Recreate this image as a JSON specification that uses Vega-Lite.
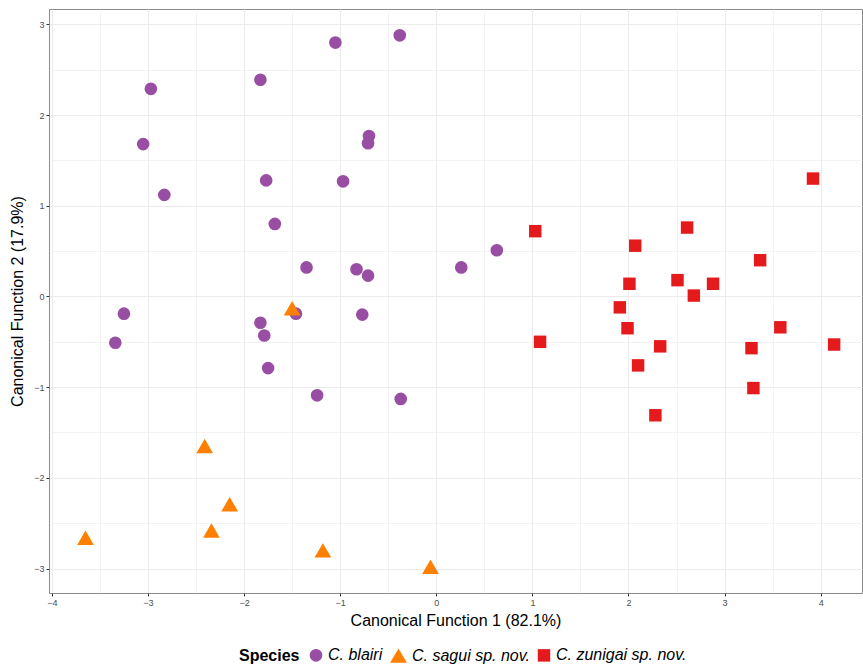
{
  "$schema": "https://vega.github.io/schema/vega-lite/v6.json",
  "width": 813,
  "height": 584,
  "autosize": {"type": "none"},
  "padding": {"left": 49, "top": 9, "right": 1, "bottom": 75},
  "background": "white",
  "config": {
    "font": "Liberation Sans",
    "view": {"stroke": "#8a8a8a", "strokeWidth": 1}
  },
  "data": {
    "values": [
      {"species": "C. blairi", "cf1": -1.05, "cf2": 2.80},
      {"species": "C. blairi", "cf1": -0.38, "cf2": 2.88},
      {"species": "C. blairi", "cf1": -2.97, "cf2": 2.29},
      {"species": "C. blairi", "cf1": -1.83, "cf2": 2.39},
      {"species": "C. blairi", "cf1": -3.05, "cf2": 1.68},
      {"species": "C. blairi", "cf1": -0.70, "cf2": 1.77},
      {"species": "C. blairi", "cf1": -0.71, "cf2": 1.69},
      {"species": "C. blairi", "cf1": -2.83, "cf2": 1.12},
      {"species": "C. blairi", "cf1": -1.77, "cf2": 1.28},
      {"species": "C. blairi", "cf1": -0.97, "cf2": 1.27},
      {"species": "C. blairi", "cf1": -1.68, "cf2": 0.80},
      {"species": "C. blairi", "cf1": -1.35, "cf2": 0.32},
      {"species": "C. blairi", "cf1": -0.83, "cf2": 0.30},
      {"species": "C. blairi", "cf1": -0.71, "cf2": 0.23},
      {"species": "C. blairi", "cf1": 0.26, "cf2": 0.32},
      {"species": "C. blairi", "cf1": 0.63, "cf2": 0.51},
      {"species": "C. blairi", "cf1": -3.25, "cf2": -0.19},
      {"species": "C. blairi", "cf1": -3.34, "cf2": -0.51},
      {"species": "C. blairi", "cf1": -1.83, "cf2": -0.29},
      {"species": "C. blairi", "cf1": -1.79, "cf2": -0.43},
      {"species": "C. blairi", "cf1": -1.46, "cf2": -0.19},
      {"species": "C. blairi", "cf1": -0.77, "cf2": -0.20},
      {"species": "C. blairi", "cf1": -1.75, "cf2": -0.79},
      {"species": "C. blairi", "cf1": -1.24, "cf2": -1.09},
      {"species": "C. blairi", "cf1": -0.37, "cf2": -1.13},
      {"species": "C. sagui sp. nov.", "cf1": -1.50, "cf2": -0.13},
      {"species": "C. sagui sp. nov.", "cf1": -2.41, "cf2": -1.65},
      {"species": "C. sagui sp. nov.", "cf1": -2.15, "cf2": -2.29},
      {"species": "C. sagui sp. nov.", "cf1": -2.34, "cf2": -2.58},
      {"species": "C. sagui sp. nov.", "cf1": -3.65, "cf2": -2.66},
      {"species": "C. sagui sp. nov.", "cf1": -1.18, "cf2": -2.80},
      {"species": "C. sagui sp. nov.", "cf1": -0.06, "cf2": -2.98},
      {"species": "C. zunigai sp. nov.", "cf1": 3.92, "cf2": 1.30},
      {"species": "C. zunigai sp. nov.", "cf1": 1.03, "cf2": 0.72},
      {"species": "C. zunigai sp. nov.", "cf1": 2.61, "cf2": 0.76},
      {"species": "C. zunigai sp. nov.", "cf1": 2.07, "cf2": 0.56},
      {"species": "C. zunigai sp. nov.", "cf1": 3.37, "cf2": 0.40},
      {"species": "C. zunigai sp. nov.", "cf1": 2.01, "cf2": 0.14},
      {"species": "C. zunigai sp. nov.", "cf1": 2.51, "cf2": 0.18},
      {"species": "C. zunigai sp. nov.", "cf1": 2.88, "cf2": 0.14},
      {"species": "C. zunigai sp. nov.", "cf1": 2.68, "cf2": 0.01},
      {"species": "C. zunigai sp. nov.", "cf1": 1.91, "cf2": -0.12},
      {"species": "C. zunigai sp. nov.", "cf1": 1.99, "cf2": -0.35},
      {"species": "C. zunigai sp. nov.", "cf1": 3.58, "cf2": -0.34},
      {"species": "C. zunigai sp. nov.", "cf1": 1.08, "cf2": -0.50},
      {"species": "C. zunigai sp. nov.", "cf1": 2.33, "cf2": -0.55},
      {"species": "C. zunigai sp. nov.", "cf1": 3.28, "cf2": -0.57},
      {"species": "C. zunigai sp. nov.", "cf1": 4.14, "cf2": -0.53},
      {"species": "C. zunigai sp. nov.", "cf1": 2.10, "cf2": -0.76},
      {"species": "C. zunigai sp. nov.", "cf1": 3.30, "cf2": -1.01},
      {"species": "C. zunigai sp. nov.", "cf1": 2.28, "cf2": -1.31}
    ]
  },
  "mark": {"type": "point", "filled": true, "opacity": 1},
  "encoding": {
    "x": {
      "field": "cf1",
      "type": "quantitative",
      "title": "Canonical Function 1 (82.1%)",
      "scale": {"domain": [-4.03, 4.43], "nice": false, "zero": false},
      "axis": {
        "values": [-4, -3.5, -3, -2.5, -2, -1.5, -1, -0.5, 0, 0.5, 1, 1.5, 2, 2.5, 3, 3.5, 4],
        "labelExpr": "datum.value % 1 === 0 ? format(datum.value, 'd') : ''",
        "labelOverlap": false,
        "labelFlush": false,
        "labelFontSize": 9,
        "labelColor": "#4d4d4d",
        "labelPadding": 2,
        "domain": false,
        "tickColor": "#333333",
        "tickSize": 3,
        "tickOpacity": {"condition": {"test": "datum.value % 1 !== 0", "value": 0}, "value": 1},
        "gridColor": "#ebebeb",
        "gridWidth": {"condition": {"test": "datum.value % 1 !== 0", "value": 0.6}, "value": 1.1},
        "titleFontSize": 16,
        "titleFontWeight": "normal",
        "titleColor": "#000000",
        "titlePadding": 5
      }
    },
    "y": {
      "field": "cf2",
      "type": "quantitative",
      "title": "Canonical Function 2 (17.9%)",
      "scale": {"domain": [-3.27, 3.17], "nice": false, "zero": false},
      "axis": {
        "values": [-3, -2.5, -2, -1.5, -1, -0.5, 0, 0.5, 1, 1.5, 2, 2.5, 3],
        "labelExpr": "datum.value % 1 === 0 ? format(datum.value, 'd') : ''",
        "labelOverlap": false,
        "labelFlush": false,
        "labelFontSize": 9,
        "labelColor": "#4d4d4d",
        "labelPadding": 2,
        "domain": false,
        "tickColor": "#333333",
        "tickSize": 3,
        "tickOpacity": {"condition": {"test": "datum.value % 1 !== 0", "value": 0}, "value": 1},
        "gridColor": "#ebebeb",
        "gridWidth": {"condition": {"test": "datum.value % 1 !== 0", "value": 0.6}, "value": 1.1},
        "titleFontSize": 16,
        "titleFontWeight": "normal",
        "titleColor": "#000000",
        "titlePadding": 8
      }
    },
    "color": {
      "field": "species",
      "type": "nominal",
      "title": "Species",
      "scale": {
        "domain": ["C. blairi", "C. sagui sp. nov.", "C. zunigai sp. nov."],
        "range": ["#984ea3", "#ff7f00", "#e41a1c"]
      },
      "legend": {
        "orient": "none",
        "legendX": 190,
        "legendY": 637,
        "direction": "horizontal",
        "titleOrient": "left",
        "titleFontSize": 16,
        "titleFontWeight": "bold",
        "titleColor": "#000000",
        "titlePadding": 8,
        "labelFontSize": 16,
        "labelFontStyle": "italic",
        "labelColor": "#000000",
        "labelOffset": 4,
        "columnPadding": 4,
        "symbolOpacity": 1
      }
    },
    "shape": {
      "field": "species",
      "type": "nominal",
      "title": "Species",
      "scale": {
        "domain": ["C. blairi", "C. sagui sp. nov.", "C. zunigai sp. nov."],
        "range": ["circle", "triangle-up", "square"]
      }
    },
    "size": {
      "field": "species",
      "type": "nominal",
      "title": "Species",
      "scale": {
        "type": "ordinal",
        "domain": ["C. blairi", "C. sagui sp. nov.", "C. zunigai sp. nov."],
        "range": [160, 280, 155]
      }
    }
  }
}
